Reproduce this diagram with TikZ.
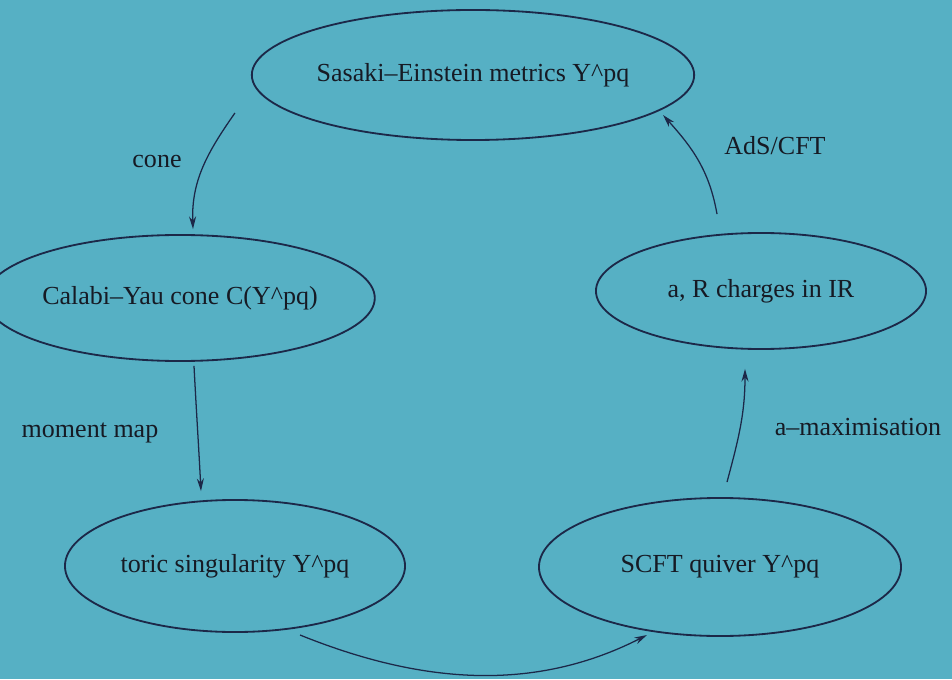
\documentclass[tikz,border=0pt]{standalone}
\usepackage{fontspec}
\setmainfont{Liberation Serif}
\usepackage{tikz}
\usetikzlibrary{shapes.geometric,arrows.meta,calc}
\definecolor{slide}{RGB}{86,176,196}
\definecolor{ink}{RGB}{28,40,72}
\definecolor{txt}{RGB}{22,26,36}
\pgfdeclarelayer{bglayer}
\pgfdeclarelayer{edgelayer}
\pgfdeclarelayer{nodelayer}
\pgfsetlayers{bglayer,edgelayer,nodelayer,main}
\tikzstyle{oval}=[ellipse, draw=ink, line width=1.3pt, inner sep=0pt, text=txt, font=\fontsize{18.5}{22}\selectfont]
\tikzstyle{label}=[text=txt, inner sep=0pt, font=\fontsize{18.5}{22}\selectfont]
\tikzstyle{edge}=[draw=ink, line width=0.9pt, -{Stealth[length=9pt,width=5pt]}]

\begin{document}
\begin{tikzpicture}[x=0.025cm, y=0.025cm]
	\useasboundingbox (0,0) rectangle (952,679);
	\begin{pgfonlayer}{bglayer}
		\fill [slide] (0,0) rectangle (952,679);
	\end{pgfonlayer}
	\begin{pgfonlayer}{nodelayer}

	%ovals
		\node [style=oval, minimum width=10.5cm, minimum height=3.25cm] (sasaki) at (473,604) {Sasaki--Einstein metrics Y\^{}pq};
		\node [style=oval, minimum width=9cm, minimum height=3.15cm] (calabi) at (180,381) {Calabi--Yau cone C(Y\^{}pq)};
		\node [style=oval, minimum width=8.5cm, minimum height=3.3cm] (toric) at (235,113) {toric singularity Y\^{}pq};
		\node [style=oval, minimum width=9.05cm, minimum height=3.45cm] (quiver) at (720,112) {SCFT quiver Y\^{}pq};
		\node [style=oval, minimum width=8.25cm, minimum height=2.9cm] (charges) at (761,388) {a, R charges in IR};

	%labels
		\node [style=label] (conelbl) at (157,517) {cone};
		\node [style=label] (adslbl) at (775,533) {AdS/CFT};
		\node [style=label] (momentlbl) at (90,246) {moment map};
		\node [style=label] (amaxlbl) at (858,252) {a--maximisation};

	\end{pgfonlayer}
	\begin{pgfonlayer}{edgelayer}

		%arrows
		\draw [style=edge] ($(sasaki.west)+(-16,-38)$) to [out=235, in=92] ($(calabi.north)+(13,5)$);
		\draw [style=edge] ($(calabi.south)+(14,-4)$) to [out=-87, in=93] ($(toric.north)+(-34,8)$);
		\draw [style=edge] ($(toric.center)+(65,-69)$) to [out=-22, in=207, looseness=0.95] ($(quiver.center)+(-73,-68)$);
		\draw [style=edge] ($(quiver.north)+(7,15)$) to [out=75, in=-90] ($(charges.south)+(-16,-19)$);
		\draw [style=edge] ($(charges.north)+(-44,18)$) to [out=100, in=-48] ($(sasaki.center)+(190,-40)$);

	\end{pgfonlayer}
\end{tikzpicture}
\end{document}
